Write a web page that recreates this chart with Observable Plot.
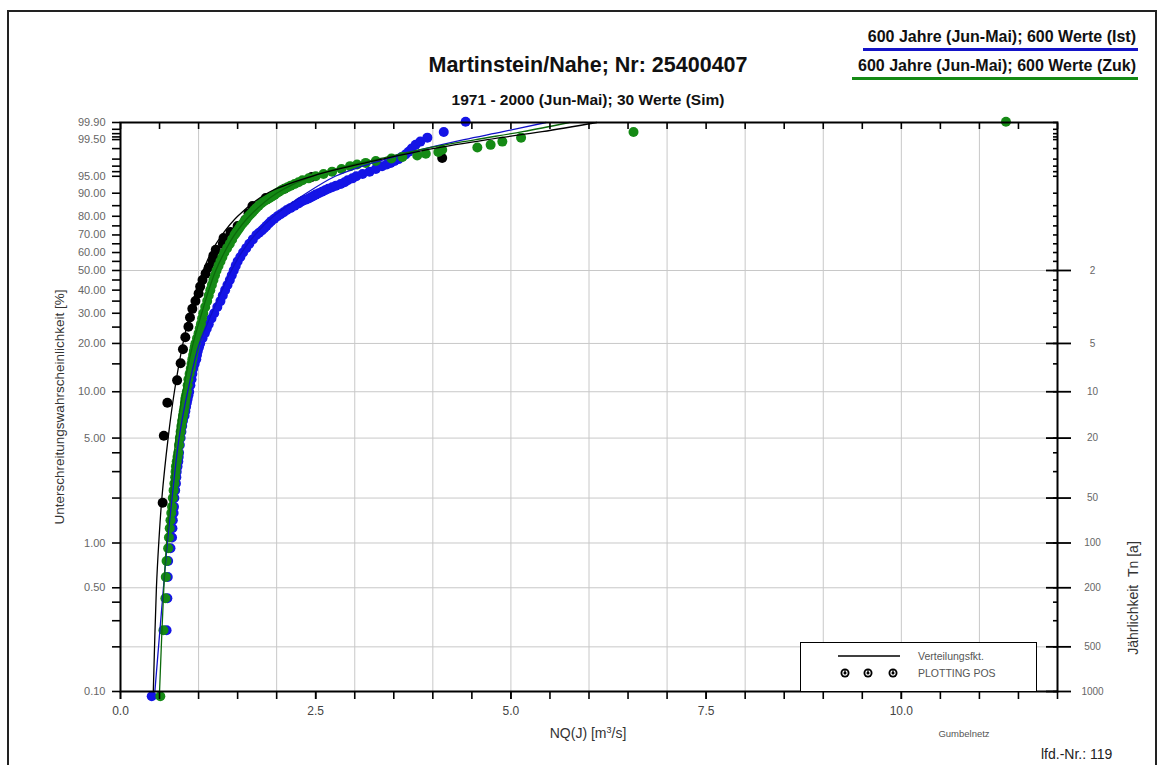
<!DOCTYPE html>
<html><head><meta charset="utf-8">
<script src="https://cdn.jsdelivr.net/npm/d3@7"></script>
<script src="https://cdn.jsdelivr.net/npm/@observablehq/plot@0.6"></script>
<style>
body{margin:0;background:#fff;font-family:"Liberation Sans",Arial,sans-serif;}
#wrap{position:relative;width:1163px;height:765px;overflow:hidden;background:#fff;}
.abs{position:absolute;white-space:nowrap;line-height:1;}
#wrap svg.plot{position:absolute;left:0;top:0;}
</style></head><body><div id="wrap"></div>
<script>
// ---------- data (P = Unterschreitungswahrscheinlichkeit in %, Q = NQ(J) in m³/s) ----------
const simP = [1.86,5.18,8.50,11.82,15.14,18.46,21.78,25.10,28.42,31.74,35.06,38.38,41.70,45.02,48.34,51.66,54.98,58.30,61.62,64.94,68.26,71.58,74.90,78.22,81.54,84.86,88.18,91.50,94.82,98.14];
const simQ = [0.54,0.555,0.60,0.725,0.77,0.80,0.83,0.87,0.89,0.92,0.96,1.00,1.02,1.05,1.09,1.13,1.18,1.19,1.22,1.31,1.32,1.41,1.50,1.60,1.64,1.69,1.86,2.10,2.45,4.12];

const istP = [0.093,0.259,0.425,0.591,0.757,0.923,1.089,1.255,1.42,1.59,1.75,2.0,2.25,2.5,2.75,3.0,3.25,3.5,3.75,4.0,4.5,5.0,5.5,6.0,6.5,7.0,7.5,8.0,8.5,9.0,9.5,10,11,12,13,14,15,16,17,18,19,20,21.5,23,24.5,26,28,30,32.5,35,37.5,40,42.5,45,47.5,50,52.5,55,57.5,60,62.5,65,67.5,70,71.25,72.5,73.75,75,76.25,77.5,78.75,80,81,82,83,84,85,86,86.5,87,87.5,88,88.5,89,89.5,90,90.5,91,91.5,92,92.5,93,93.5,94,94.5,95,95.5,96,96.5,97,97.25,97.5,97.75,98,98.25,98.5,98.75,99,99.25,99.41,99.575,99.74,99.907];
const istQ = [0.40,0.59,0.60,0.605,0.61,0.64,0.66,0.665,0.67,0.68,0.685,0.69,0.70,0.71,0.715,0.72,0.73,0.74,0.745,0.75,0.76,0.77,0.78,0.79,0.80,0.82,0.83,0.84,0.85,0.86,0.87,0.88,0.895,0.91,0.92,0.93,0.95,0.97,0.98,0.99,1.005,1.02,1.05,1.08,1.105,1.13,1.165,1.20,1.24,1.28,1.31,1.34,1.37,1.40,1.425,1.45,1.475,1.50,1.535,1.57,1.61,1.65,1.695,1.74,1.775,1.81,1.84,1.87,1.90,1.93,1.97,2.01,2.05,2.09,2.13,2.18,2.23,2.28,2.30,2.33,2.37,2.41,2.44,2.47,2.50,2.54,2.58,2.62,2.66,2.71,2.76,2.82,2.87,2.91,2.97,3.02,3.10,3.19,3.27,3.35,3.41,3.46,3.51,3.56,3.60,3.65,3.69,3.73,3.78,3.84,3.93,4.14,4.42];

const zukP = [0.093,0.259,0.425,0.591,0.757,0.923,1.089,1.255,1.42,1.59,1.75,2.0,2.25,2.5,2.75,3.0,3.25,3.5,3.75,4.0,4.5,5.0,5.5,6.0,6.5,7.0,7.5,8.0,8.5,9.0,9.5,10,11,12,13,14,15,16,17,18,19,20,21.5,23,24.5,26,28,30,32.5,35,37.5,40,42.5,45,47.5,50,52.5,55,57.5,60,62.5,65,67.5,70,71.25,72.5,73.75,75,76.25,77.5,78.75,80,81,82,83,84,85,86,86.5,87,87.5,88,88.5,89,89.5,90,90.5,91,91.5,92,92.5,93,93.5,94,94.5,95,95.5,96,96.5,97,97.25,97.5,97.75,98.08,98.25,98.41,98.58,98.74,98.91,99.08,99.24,99.41,99.575,99.74,99.907];
const zukQ = [0.51,0.55,0.575,0.58,0.59,0.61,0.62,0.63,0.64,0.65,0.66,0.67,0.68,0.69,0.70,0.705,0.71,0.72,0.73,0.74,0.75,0.76,0.77,0.78,0.79,0.80,0.81,0.82,0.825,0.83,0.84,0.85,0.86,0.87,0.885,0.90,0.91,0.92,0.93,0.94,0.95,0.96,0.98,1.00,1.015,1.03,1.045,1.06,1.085,1.11,1.13,1.15,1.17,1.19,1.21,1.23,1.255,1.28,1.305,1.33,1.365,1.40,1.43,1.46,1.48,1.50,1.52,1.54,1.565,1.59,1.615,1.64,1.665,1.69,1.715,1.74,1.77,1.80,1.82,1.84,1.87,1.90,1.925,1.95,1.975,2.00,2.03,2.06,2.10,2.14,2.18,2.23,2.28,2.33,2.41,2.50,2.60,2.71,2.83,2.94,3.03,3.14,3.27,3.47,3.61,3.80,3.91,4.07,4.12,4.57,4.74,4.89,5.13,6.57,11.34];

// fitted distribution functions (Verteilungsfkt.)
const fitP  = [0.1,0.5,1,2,5,10,20,30,40,50,60,70,80,90,95,97,98,99,99.5,99.75,99.9];
const simFitQ = [0.42,0.46,0.49,0.53,0.61,0.69,0.80,0.89,0.97,1.06,1.16,1.30,1.50,1.88,2.45,2.95,3.35,4.00,4.70,5.40,6.10];
const istFitQ = [0.44,0.55,0.60,0.66,0.75,0.86,1.01,1.17,1.30,1.42,1.55,1.72,1.96,2.38,2.75,3.10,3.40,3.90,4.40,4.90,5.45];
const zukFitQ = [0.50,0.555,0.59,0.64,0.71,0.80,0.93,1.04,1.13,1.22,1.33,1.46,1.65,2.00,2.45,2.90,3.30,3.90,4.55,5.15,5.75];

// ticks
const leftLabelP = [0.1,0.5,1,5,10,20,30,40,50,60,70,80,90,95,99.5,99.9];
const leftMinorP = [0.2,0.3,0.4,2,3,4,15,25,35,45,55,65,75,85,96,97,98,99,99.6,99.7,99.8];
const returnT = [2,5,10,20,50,100,200,500,1000];
const xLabelTicks = [0,2.5,5,7.5,10];
const xMinorTicks = [0,0.5,1,1.5,2,2.5,3,3.5,4,4.5,5,5.5,6,6.5,7,7.5,8,8.5,9,9.5,10,10.5,11,11.5,12];
const xGridTicks = [1,2,3,4,5,6,7,8,9,10,11];

// ---------- Gumbel (minimum) probability paper ----------
const W = p => Math.log(-Math.log(1 - p / 100));
const Pinv = w => 100 * (1 - Math.exp(-Math.exp(w)));
const rows = (P, Q) => P.map((p, i) => ({w: W(p), q: Q[i]}));
const retRows = returnT.map(t => ({w: W(100 / t), t: String(t)}));
const allP = leftLabelP.concat(leftMinorP);

const BLUE = "#1414e6", GREEN = "#158a15";
const font = "Liberation Sans, Arial, sans-serif";

const chart = Plot.plot({
  width: 1163, height: 765,
  marginLeft: 120, marginRight: 106, marginTop: 122, marginBottom: 74,
  style: {fontFamily: font, background: "transparent", overflow: "visible"},
  x: {domain: [0, 12], label: null},
  y: {domain: [W(0.1), W(99.9)], label: null},
  marks: [
    Plot.gridX(xGridTicks, {stroke: "#c8c8c8", strokeOpacity: 1, strokeWidth: 1}),
    Plot.gridY(returnT.map(t => W(100 / t)), {stroke: "#c8c8c8", strokeOpacity: 1, strokeWidth: 1}),
    Plot.dot(rows(simP, simQ), {x: "q", y: "w", r: 5, fill: "#000"}),
    Plot.dot(rows(istP, istQ), {x: "q", y: "w", r: 5, fill: BLUE}),
    Plot.dot(rows(zukP, zukQ), {x: "q", y: "w", r: 5, fill: GREEN}),
    Plot.line(rows(fitP, istFitQ), {x: "q", y: "w", stroke: "#1010c8", strokeWidth: 1.3, curve: "catmull-rom"}),
    Plot.line(rows(fitP, zukFitQ), {x: "q", y: "w", stroke: "#0b6a0b", strokeWidth: 1.3, curve: "catmull-rom"}),
    Plot.line(rows(fitP, simFitQ), {x: "q", y: "w", stroke: "#000", strokeWidth: 1.3, curve: "catmull-rom"}),
    // left axis
    Plot.axisY({anchor: "left", ticks: leftLabelP.map(W), tickSize: 8, tickPadding: 7, label: null,
      tickFormat: w => Pinv(w).toFixed(2), fontSize: 11, fill: "#666", stroke: "#000", strokeWidth: 1.6}),
    Plot.axisY({anchor: "left", ticks: leftMinorP.map(W), tickSize: 8, label: null,
      tickFormat: () => "", stroke: "#000", strokeWidth: 1.6}),
    // right axis
    Plot.axisY({anchor: "right", ticks: allP.map(W), tickSize: -5, label: null, tickFormat: () => "", stroke: "#000", strokeWidth: 1.6}),
    Plot.axisY({anchor: "right", ticks: returnT.map(t => W(100 / t)), tickSize: 13, label: null, tickFormat: () => "", stroke: "#000", strokeWidth: 1.8}),
    Plot.axisY({anchor: "right", ticks: returnT.map(t => W(100 / t)), tickSize: -12, label: null, tickFormat: () => "", stroke: "#000", strokeWidth: 1.8}),
    Plot.text(retRows, {y: "w", text: "t", frameAnchor: "right", dx: 35, textAnchor: "middle", fontSize: 10, fill: "#666"}),
    // x axes
    Plot.axisX({anchor: "bottom", ticks: xMinorTicks, tickSize: 8, label: null, tickFormat: () => "", stroke: "#000", strokeWidth: 1.6}),
    Plot.axisX({anchor: "bottom", ticks: xLabelTicks, tickSize: 8, tickPadding: 7, label: null,
      tickFormat: d3.format(".1f"), fontSize: 12, fill: "#444", stroke: "#000", strokeWidth: 1.6}),
    Plot.axisX({anchor: "top", ticks: xMinorTicks, tickSize: -6, label: null, tickFormat: () => "", stroke: "#000", strokeWidth: 1.6}),
    Plot.frame({stroke: "#000", strokeWidth: 2})
  ]
});
chart.classList.add("plot");

const wrap = document.getElementById("wrap");
function addText(html, css) {
  const d = document.createElement("div");
  d.className = "abs";
  d.innerHTML = html;
  Object.assign(d.style, css);
  wrap.appendChild(d);
  return d;
}
// outer page frame
const fr = document.createElement("div");
Object.assign(fr.style, {position: "absolute", left: "7px", top: "10px", width: "1150px", height: "800px", border: "2px solid #222", boxSizing: "border-box"});
wrap.appendChild(fr);
wrap.appendChild(chart);

addText("Martinstein/Nahe; Nr: 25400407", {left: "588px", top: "55px", transform: "translateX(-50%)", fontSize: "21.5px", fontWeight: "bold", color: "#111"});
addText("1971 - 2000 (Jun-Mai); 30 Werte (Sim)", {left: "588px", top: "92px", transform: "translateX(-50%)", fontSize: "15.5px", fontWeight: "bold", color: "#111"});
addText("600 Jahre (Jun-Mai); 600 Werte (Ist)", {right: "27px", top: "29px", fontSize: "16px", fontWeight: "bold", color: "#111"});
addText("600 Jahre (Jun-Mai); 600 Werte (Zuk)", {right: "27px", top: "58px", fontSize: "16px", fontWeight: "bold", color: "#111"});
const ul1 = document.createElement("div");
Object.assign(ul1.style, {position: "absolute", left: "863px", top: "48px", width: "275px", height: "3px", background: "#1414c8"});
wrap.appendChild(ul1);
const ul2 = document.createElement("div");
Object.assign(ul2.style, {position: "absolute", left: "852px", top: "77px", width: "286px", height: "3px", background: "#158a15"});
wrap.appendChild(ul2);

addText("NQ(J) [m<sup style='font-size:9px;vertical-align:5px'>3</sup>/s]", {left: "588px", top: "726px", transform: "translateX(-50%)", fontSize: "14px", color: "#333"});
addText("Gumbelnetz", {left: "964px", top: "729px", transform: "translateX(-50%)", fontSize: "9.5px", color: "#555"});
addText("lfd.-Nr.: 119", {left: "1041px", top: "747px", fontSize: "14px", color: "#222"});
addText("Unterschreitungswahrscheinlichkeit [%]", {left: "60px", top: "407px", transform: "translate(-50%,-50%) rotate(-90deg)", fontSize: "13.5px", color: "#333"});
addText("Jährlichkeit&nbsp;&nbsp;Tn [a]", {left: "1133px", top: "598px", transform: "translate(-50%,-50%) rotate(-90deg)", fontSize: "14px", color: "#333"});

// legend box inside plot
const lg = document.createElement("div");
Object.assign(lg.style, {position: "absolute", left: "800px", top: "642px", width: "237px", height: "50px", border: "1.5px solid #000", background: "#fff", boxSizing: "border-box"});
lg.innerHTML = `<svg width="237" height="50" style="position:absolute;left:-1.5px;top:-1.5px;font-family:${font}">
  <line x1="38" x2="100" y1="14" y2="14" stroke="#000" stroke-width="1.6"/>
  <text x="118" y="17.5" font-size="10.5" fill="#555">Verteilungsfkt.</text>
  ${[45, 68, 93].map(cx => `<g transform="translate(${cx},31)"><circle r="4.5" fill="#000"/><circle r="2.1" fill="none" stroke="#fff" stroke-width="1.1"/><line x1="0" x2="0" y1="-4" y2="-0.5" stroke="#000" stroke-width="1.2"/></g>`).join("")}
  <text x="118" y="34.5" font-size="10.5" fill="#555">PLOTTING POS</text>
</svg>`;
wrap.appendChild(lg);
</script>
</body></html>
